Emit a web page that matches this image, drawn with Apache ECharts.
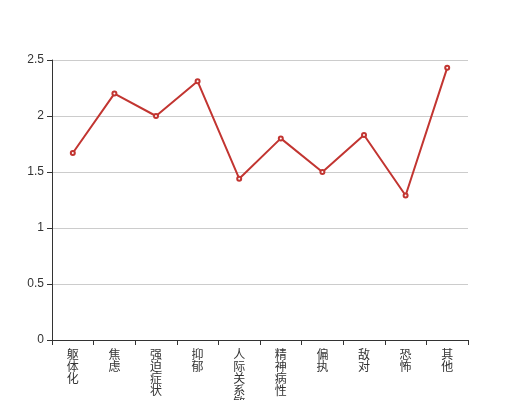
<!DOCTYPE html>
<html><head><meta charset="utf-8">
<script src="https://cdn.jsdelivr.net/npm/echarts@6/dist/echarts.min.js"></script>
<style>html,body{margin:0;padding:0;background:#fff}#c{width:520px;height:400px}</style>
</head><body><div id="c"></div>
<script>
const categories = ['躯体化','焦虑','强迫症状','抑郁','人际关系敏感','精神病性','偏执','敌对','恐怖','其他'];
const values = [1.67, 2.2, 2.0, 2.31, 1.44, 1.8, 1.5, 1.83, 1.29, 2.43];
const chart = echarts.init(document.getElementById('c'));
chart.setOption({
  animation: false,
  grid: {left: 52, right: 52, top: 60, bottom: 60, containLabel: false, outerBoundsMode: 'none'},
  xAxis: {
    type: 'category', data: categories, boundaryGap: true,
    axisLine: {show: true, lineStyle: {color: '#333'}},
    axisTick: {show: true, alignWithLabel: false, interval: 0, length: 5, lineStyle: {color: '#333'}},
    axisLabel: {color: '#333', fontSize: 12, lineHeight: 12, interval: 0, margin: 8,
      fontFamily: '"Noto Sans CJK SC", sans-serif',
      formatter: v => v.split('').join('\n')}
  },
  yAxis: {
    type: 'value', min: 0, max: 2.5, interval: 0.5,
    axisLine: {show: true, lineStyle: {color: '#333'}},
    axisTick: {show: true, length: 5, lineStyle: {color: '#333'}},
    axisLabel: {color: '#333', fontSize: 12},
    splitLine: {lineStyle: {color: '#ccc'}}
  },
  series: [{
    type: 'line', data: values,
    symbol: 'emptyCircle', symbolSize: 4,
    lineStyle: {color: '#c23531', width: 2},
    itemStyle: {color: '#c23531'}
  }]
});
</script></body></html>
